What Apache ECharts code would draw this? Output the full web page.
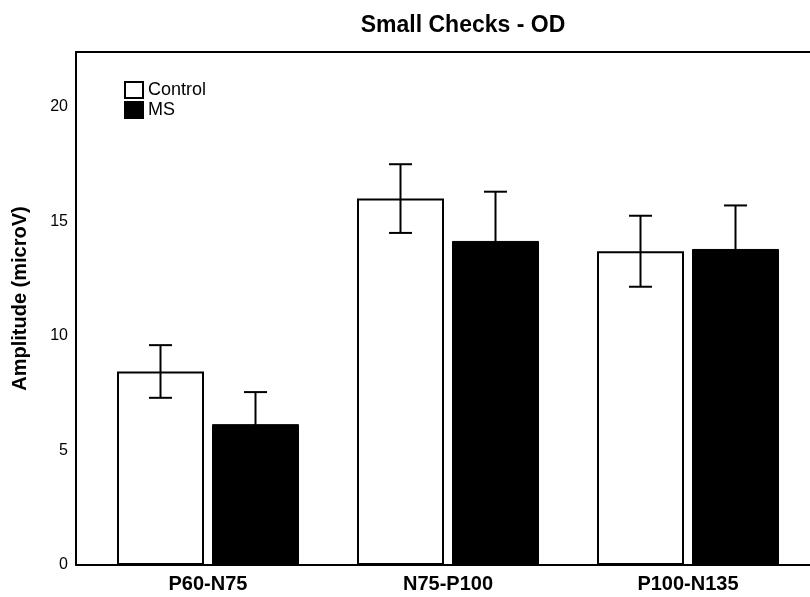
<!DOCTYPE html>
<html>
<head>
<meta charset="utf-8">
<script src="https://cdn.jsdelivr.net/npm/echarts@6/dist/echarts.min.js"></script>
<style>
  html, body { margin: 0; padding: 0; background: #fff; }
  #chart { width: 810px; height: 597px; }
</style>
</head>
<body>
<div id="chart"></div>
<script>
// data
const categories = ['P60-N75', 'N75-P100', 'P100-N135'];
const controlMean = [8.45, 16.0, 13.7];
const controlErr = [1.15, 1.5, 1.55];
const msMean = [6.15, 14.15, 13.8];
const msErr = [1.4, 2.15, 1.9];
const yTicks = [0, 5, 10, 15, 20];

const font = 'Liberation Sans, Arial, sans-serif';
const barWidth = 87;
const barGapPx = 8;

// error bar drawn as vertical line with caps, shifted to the bar's slot
function errorBar(means, errs, side) {
  return {
    type: 'custom',
    xAxisIndex: 0,
    yAxisIndex: 0,
    z: 10,
    silent: true,
    data: means.map((m, i) => [i, m - errs[i], m + errs[i]]),
    renderItem: function (params, api) {
      const shift = side * (barWidth + barGapPx) / 2;
      const lo = api.coord([api.value(0), api.value(1)]);
      const hi = api.coord([api.value(0), api.value(2)]);
      const x = lo[0] + shift;
      const cap = 11.5;
      const style = { stroke: '#000', lineWidth: 2 };
      return {
        type: 'group',
        children: [
          { type: 'line', shape: { x1: x, y1: lo[1], x2: x, y2: hi[1] }, style: style },
          { type: 'line', shape: { x1: x - cap, y1: hi[1], x2: x + cap, y2: hi[1] }, style: style },
          { type: 'line', shape: { x1: x - cap, y1: lo[1], x2: x + cap, y2: lo[1] }, style: style }
        ]
      };
    }
  };
}

const chart = echarts.init(document.getElementById('chart'));
const yMax = 22.4;
const frameLine = { show: true, lineStyle: { color: '#000', width: 2 } };

chart.setOption({
  animation: false,
  backgroundColor: '#fff',
  title: {
    text: 'Small Checks - OD',
    left: 458,
    top: 9,
    textAlign: 'center',
    textStyle: { fontFamily: font, fontSize: 23, fontWeight: 'bold', color: '#000' }
  },
  legend: {
    orient: 'vertical',
    left: 119,
    top: 76,
    itemWidth: 18,
    itemHeight: 16,
    itemGap: 2,
    icon: 'rect',
    textStyle: { fontFamily: font, fontSize: 18, color: '#000' },
    data: ['Control', 'MS']
  },
  grid: [
    { left: 88, right: 2, top: 52, bottom: 32 },
    { left: 76, right: 0, top: 52, bottom: 32 }
  ],
  xAxis: [
    {
      type: 'category',
      gridIndex: 0,
      data: categories,
      axisLine: { show: false },
      axisTick: { show: false },
      axisLabel: { margin: 9, fontFamily: font, fontSize: 20, fontWeight: 'bold', color: '#000' }
    },
    {
      type: 'value',
      gridIndex: 1,
      position: 'bottom',
      axisLine: frameLine,
      axisTick: { show: false },
      axisLabel: { show: false },
      splitLine: { show: false }
    },
    {
      type: 'value',
      gridIndex: 1,
      position: 'top',
      axisLine: frameLine,
      axisTick: { show: false },
      axisLabel: { show: false },
      splitLine: { show: false }
    }
  ],
  yAxis: [
    {
      type: 'value',
      gridIndex: 0,
      min: 0,
      max: yMax,
      show: false
    },
    {
      type: 'value',
      gridIndex: 1,
      min: 0,
      max: yMax,
      interval: 5,
      name: 'Amplitude (microV)',
      nameLocation: 'middle',
      nameGap: 46,
      nameTextStyle: { fontFamily: font, fontSize: 20, fontWeight: 'bold', color: '#000', padding: [0, 0, 0, 20] },
      axisLine: frameLine,
      axisTick: { show: false },
      splitLine: { show: false },
      axisLabel: {
        margin: 8,
        fontFamily: font,
        fontSize: 16,
        color: '#000',
        formatter: v => (yTicks.includes(v) ? String(v) : '')
      }
    }
  ],
  series: [
    {
      name: 'Control',
      type: 'bar',
      xAxisIndex: 0,
      yAxisIndex: 0,
      barWidth: barWidth,
      barGap: (barGapPx / barWidth * 100) + '%',
      data: controlMean,
      itemStyle: { color: '#fff', borderColor: '#000', borderWidth: 2 }
    },
    {
      name: 'MS',
      type: 'bar',
      xAxisIndex: 0,
      yAxisIndex: 0,
      barWidth: barWidth,
      data: msMean,
      itemStyle: { color: '#000', borderColor: '#000', borderWidth: 1 }
    },
    errorBar(controlMean, controlErr, -1),
    errorBar(msMean, msErr, 1)
  ]
});
</script>
</body>
</html>
